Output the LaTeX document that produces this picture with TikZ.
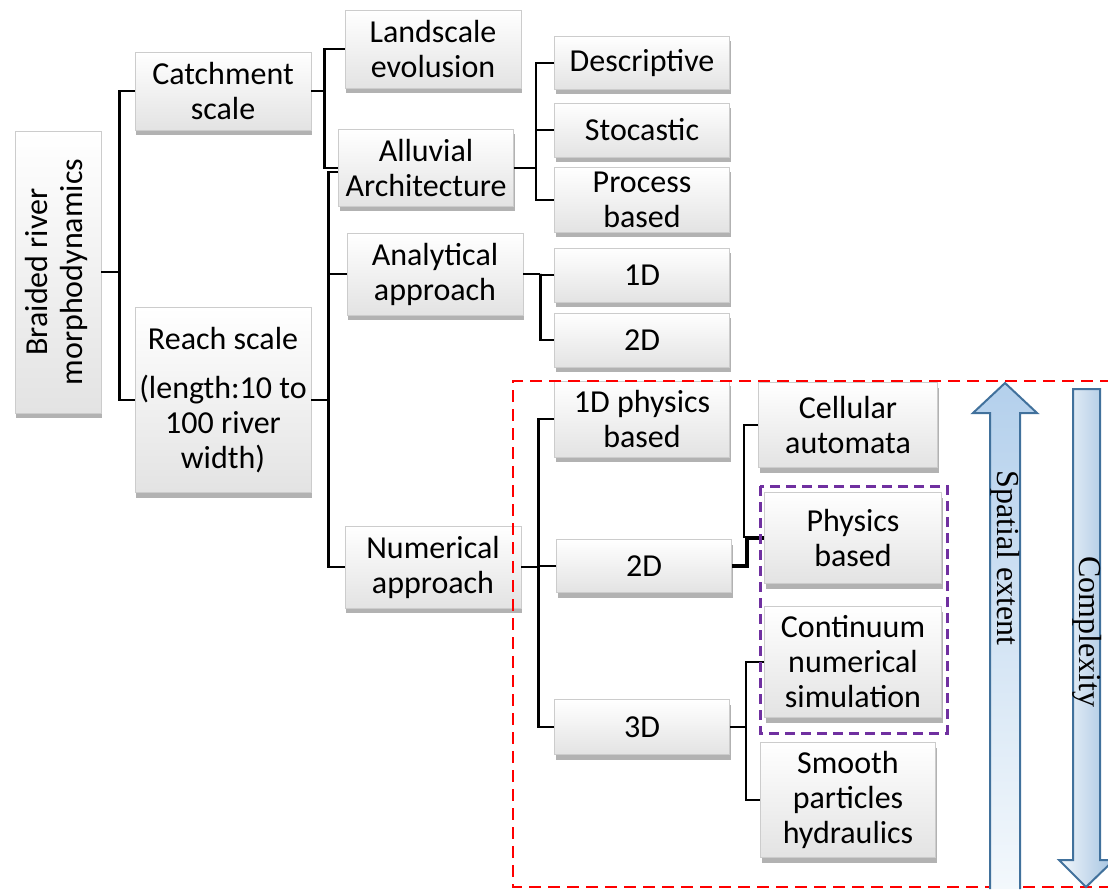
\documentclass[tikz,border=0pt]{standalone}
\usepackage{fontspec}
\usepackage{graphicx}
\usepackage{tikz}
\usetikzlibrary{shadows}
\setmainfont{Carlito}
\newfontfamily\timesfont{Liberation Serif}

\definecolor{arrowline}{HTML}{41719C}
\definecolor{arrowtop}{HTML}{B4D0EC}
\definecolor{arrowlow}{HTML}{F3F8FC}
\definecolor{zonepurple}{HTML}{7030A0}

\tikzset{
	box/.style={draw=gray!40, line width=0.6pt, top color=white, bottom color=gray!22,
		align=center, inner sep=0pt, font=\fontsize{32}{35}\selectfont,
		drop shadow={shadow xshift=1pt, shadow yshift=-5pt, fill=black, opacity=0.3}},
	link/.style={line width=2.4pt, black},
	bigarrow/.style={draw=arrowline, line width=2pt, line join=miter}
}

\begin{document}
\begin{tikzpicture}[x=1pt, y=-1pt]
			\useasboundingbox (0,0) rectangle (1108,890);

			% level 0 and 1
			\node[box, minimum width=86, minimum height=282] (root) at (58,272)
				{\rotatebox{90}{\begin{tabular}{@{}c@{}}Braided river\\morphodynamics\end{tabular}}};
			\node[box, minimum width=176, minimum height=78] (catch) at (223,91) {Catchment\\scale};
			\node[box, minimum width=176, minimum height=185] (reach) at (223,400)
				{Reach scale\\[14pt](length:10 to\\100 river\\width)};

			% level 2
			\node[box, minimum width=176, minimum height=78] (land) at (433,49) {Landscale\\evolusion};
			\node[box, minimum width=175, minimum height=77] (alluv) at (426,168) {Alluvial\\Architecture};
			\node[box, minimum width=176, minimum height=82] (anal) at (435,274) {Analytical\\approach};
			\node[box, minimum width=176, minimum height=82] (num) at (433,567) {Numerical\\approach};

			% level 3
			\node[box, minimum width=175, minimum height=53] (desc) at (642,63) {Descriptive};
			\node[box, minimum width=175, minimum height=54] (stoc) at (642,130) {Stocastic};
			\node[box, minimum width=175, minimum height=65] (proc) at (642,200) {Process\\based};
			\node[box, minimum width=175, minimum height=54] (oneD) at (642,275) {1D};
			\node[box, minimum width=175, minimum height=54] (twoD) at (642,340) {2D};
			\node[box, minimum width=175, minimum height=76] (phys1) at (642,419) {1D physics\\based};
			\node[box, minimum width=175, minimum height=53] (twoDn) at (644,566) {2D};
			\node[box, minimum width=175, minimum height=55] (threeD) at (642,727) {3D};

			% level 4
			\node[box, minimum width=179, minimum height=85] (cell) at (848,425) {Cellular\\automata};
			\node[box, minimum width=177, minimum height=91] (physb) at (853,538) {Physics\\based};
			\node[box, minimum width=177, minimum height=111] (cont) at (853,662) {Continuum\\numerical\\simulation};
			\node[box, minimum width=175, minimum height=115] (smooth) at (848,800) {Smooth\\particles\\hydraulics};

			% junctions
			\coordinate (j0) at ([xshift=18pt]root.east);
			\coordinate (jc) at ([xshift=13pt]catch.east);
			\coordinate (jr) at ([xshift=17pt]reach.east);
			\coordinate (ja) at ([xshift=22pt]alluv.east);
			\coordinate (jb) at ([xshift=17pt]anal.east);
			\coordinate (jn) at ([xshift=17pt]num.east);
			\coordinate (jt) at ([xshift=15pt]twoDn.east);
			\coordinate (jd) at ([xshift=16pt]threeD.east);

			\draw[link] (root.east) -- (j0);
			\draw[link] (catch.west) -| (j0) |- (reach.west);
			\draw[link] (catch.east) -- (jc);
			\draw[link] (land.west) -| (jc) |- (alluv.west);
			\draw[link] (reach.east) -- (jr);
			\draw[link] ([yshift=-4pt]alluv.west) -| (jr) |- (num.west);
			\draw[link] (anal.west) -- (anal.west -| jr);
			\draw[link] (alluv.east) -- (ja);
			\draw[link] (desc.west) -| (ja) |- (proc.west);
			\draw[link] (stoc.west) -- (stoc.west -| ja);
			\draw[link] (anal.east) -- (jb);
			\draw[link] (oneD.west) -| (jb) |- (twoD.west);
			\draw[link] (num.east) -- (jn);
			\draw[link] (phys1.west) -| (jn) |- (threeD.west);
			\draw[link] (twoDn.west) -- (twoDn.west -| jn);
			\draw[link, line width=3.4pt] (twoDn.east) -- (jt) |- (physb.west);
			\draw[link] (cell.west) -| ([xshift=-3pt]jt |- physb.west);
			\draw[link] (threeD.east) -- (jd);
			\draw[link] (cont.west) -| (jd) |- (smooth.west);

			% dashed zones
			\draw[red, line width=2.5pt, dash pattern=on 12pt off 7pt] (1112,381) -- (513,381) -- (513,887) -- (1112,887);
			\draw[zonepurple, line width=3pt, dash pattern=on 10pt off 6pt] (760,486) rectangle (947,733);

			% trend arrows
			\draw[bigarrow, top color=arrowtop, bottom color=arrowlow]
				(990,889) -- (990,413) -- (973,413) -- (1005,383) -- (1037,413) -- (1020,413) -- (1020,889);
			\draw[bigarrow, left color=arrowlow, right color=arrowtop!85!arrowline]
				(1073,389) -- (1100,389) -- (1100,860) -- (1114,860) -- (1086,887) -- (1059,860) -- (1073,860) -- cycle;
			\node[rotate=-90, font=\timesfont\fontsize{32}{36}\selectfont] (space) at (1005,558) {Spatial extent};
			\node[rotate=-90, font=\timesfont\fontsize{32}{36}\selectfont] (cplx) at (1087,632) {Complexity};
		\end{tikzpicture}
\end{document}
